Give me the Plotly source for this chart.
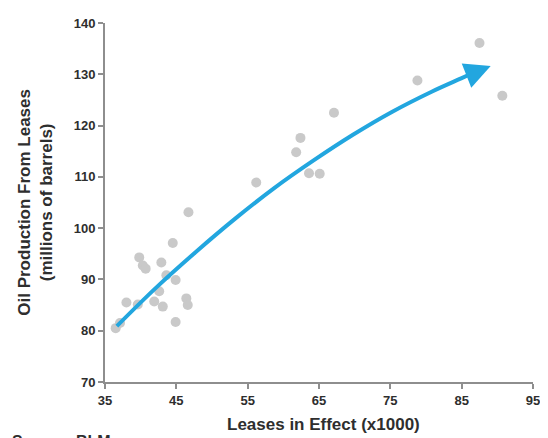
import plotly.graph_objects as go

# Scatter data: leases in effect (x1000) vs oil production (millions of barrels)
leases = [87.5, 90.7, 78.8, 67.1, 62.4, 61.8, 63.6, 65.1, 56.2,
          46.7, 44.5, 39.8, 40.3, 40.7, 42.9, 43.6, 44.9, 42.6,
          38.0, 39.6, 41.9, 43.1, 46.4, 46.6, 44.9, 37.1, 36.5]
production = [136.1, 125.8, 128.8, 122.5, 117.6, 114.8, 110.7, 110.6, 108.9,
              103.1, 97.1, 94.3, 92.7, 92.1, 93.3, 90.8, 89.9, 87.7,
              85.5, 85.1, 85.7, 84.7, 86.3, 85.0, 81.7, 81.5, 80.5]

# Trend curve points
trend_x = [36.66, 42.17, 47.69, 53.21, 58.72, 64.24, 69.76, 75.28, 80.79, 84.93, 86.03]
trend_y = [80.9, 88.4, 95.3, 101.8, 107.8, 113.2, 118.2, 122.7, 126.6, 129.2, 129.9]
arrow_tail = (85.6, 129.7)
arrow_tip = (89.07, 131.6)

x_ticks = [35, 45, 55, 65, 75, 85, 95]
y_ticks = [70, 80, 90, 100, 110, 120, 130, 140]

BLUE = "#22A6DF"
GREY_PT = "#C9C9C9"
AXIS = "#8E8E8E"
TEXT = "#2E2E2E"
FONT = "Liberation Sans, Arial, sans-serif"

fig = go.Figure()
fig.add_trace(go.Scatter(
    x=leases, y=production, mode="markers",
    marker=dict(size=10, color=GREY_PT, line=dict(width=0)),
    hoverinfo="x+y", showlegend=False))
fig.add_trace(go.Scatter(
    x=trend_x, y=trend_y, mode="lines",
    line=dict(color=BLUE, width=4, shape="spline", smoothing=1.0),
    hoverinfo="skip", showlegend=False))

fig.add_annotation(
    x=arrow_tip[0], y=arrow_tip[1], ax=arrow_tail[0], ay=arrow_tail[1],
    xref="x", yref="y", axref="x", ayref="y", text="",
    showarrow=True, arrowhead=2, arrowsize=1.3, arrowwidth=4,
    arrowcolor=BLUE, standoff=0, startstandoff=0)

fig.add_annotation(
    text="<b>Oil Production From Leases<br>(millions of barrels)</b>",
    xref="paper", yref="paper", x=-0.163, y=0.5, textangle=-90,
    showarrow=False, xanchor="center", yanchor="middle",
    font=dict(family=FONT, size=17, color=TEXT))
fig.add_annotation(
    text="<b>Leases in Effect (x1000)</b>",
    xref="paper", yref="paper", x=0.511, y=-0.1175,
    showarrow=False, xanchor="center", yanchor="middle",
    font=dict(family=FONT, size=17, color=TEXT))
fig.add_annotation(
    text="<b>Source: BLM</b>",
    xref="paper", yref="paper", x=-0.222, y=-0.137,
    showarrow=False, xanchor="left", yanchor="top",
    font=dict(family=FONT, size=16, color=TEXT))

axis_common = dict(
    showgrid=False, zeroline=False, showline=True, linecolor=AXIS, linewidth=2,
    ticks="outside", ticklen=5, tickwidth=1.5, tickcolor=AXIS,
    tickfont=dict(family=FONT, size=13, color=TEXT, weight="bold"),
)
fig.update_xaxes(range=[35, 95], tickvals=x_ticks, ticktext=[str(v) for v in x_ticks],
                 **axis_common)
fig.update_yaxes(range=[70, 140], tickvals=y_ticks, ticktext=[str(v) for v in y_ticks],
                 **axis_common)

# the page adds an 8px body margin, so the figure is 8px smaller on each axis
fig.update_layout(
    width=540, height=430,
    margin=dict(l=97, r=8, t=8, b=56),
    paper_bgcolor="white", plot_bgcolor="white",
    font=dict(family=FONT, color=TEXT),
)

fig.write_html("out.html")
